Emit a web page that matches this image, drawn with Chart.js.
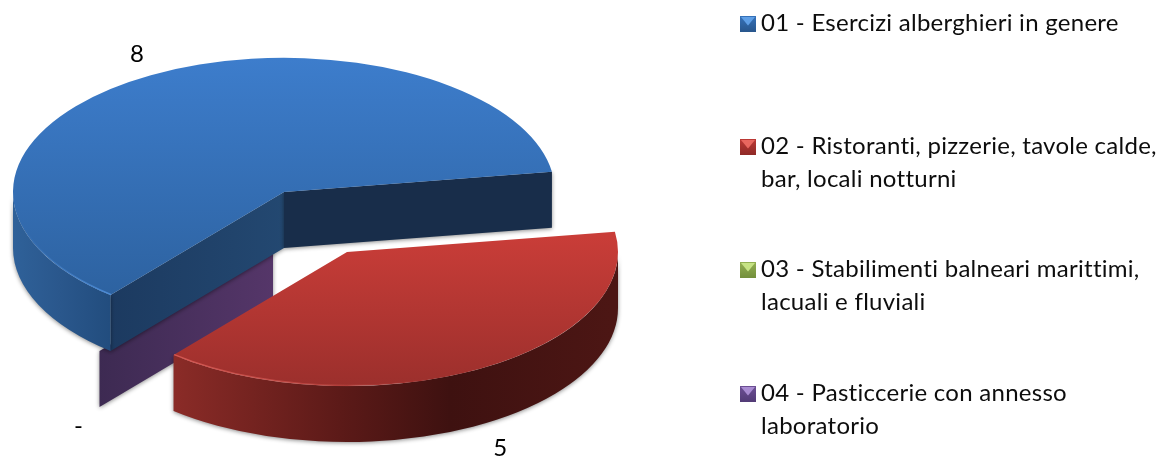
<!DOCTYPE html>
<html>
<head>
<meta charset="utf-8">
<title>Esercizi</title>
<script src="https://cdn.jsdelivr.net/npm/chart.js@4"></script>
<style>
  html, body { margin: 0; background: #fff; }
  canvas { display: block; }
</style>
</head>
<body>
<canvas id="pieChart" width="1173" height="463"></canvas>
<script>
const categories = [
  ["01 - Esercizi alberghieri in genere"],
  ["02 - Ristoranti, pizzerie, tavole calde,", "bar, locali notturni"],
  ["03 - Stabilimenti balneari marittimi,", "lacuali e fluviali"],
  ["04 - Pasticcerie con annesso", "laboratorio"]
];
const values = [8, 5, 0, 0];
const valueLabels = ["8", "5", "", "-"];

// look of the fake 3D pie
const squash = 0.495;
const depth = 56;
const radius = 271;
const fontName = "Lato";

// how far each slice is pulled out of the pie, before squashing
const explode = [[0, 0], [63, 121], [-11, 113], [-11, 113]];
const labelNudge = [[-14, -21], [20, 24], [0, 0], [-21, 19]];
const legendBaselines = [31, 154, 277, 401];

const topColors = [
  { y0: 58, y1: 297, c0: "#3d7dcc", c1: "#2d62a0" },
  { y0: 236, y1: 388, c0: "#c93d38", c1: "#9b2f2c" },
  { y0: 0, y1: 1, c0: "#9bbb59", c1: "#9bbb59" },
  { y0: 0, y1: 1, c0: "#7d5fa0", c1: "#7d5fa0" }
];
// light bevel on the front edge, fading out
const rimStops = [
  [[20, "rgba(79,143,220,0)"], [110, "rgba(79,143,220,0.9)"]],
  [[175, "rgba(218,92,86,0.9)"], [300, "rgba(218,92,86,0.5)"], [430, "rgba(218,92,86,0)"]],
  null,
  null
];
const sideStops = [
  [[13, "#2f6199"], [60, "#2a578c"], [110, "#224d7e"]],
  [[175, "#8a2b27"], [340, "#5c1a18"], [450, "#3e1110"], [610, "#4c1614"]],
  null,
  null
];
// start wall, end wall; zero slices only have the one
const wallStops = [
  [[[110, "#1c3a60"], [284, "#234871"]], [[284, "#182d4a"], [552, "#182d4a"]]],
  [null, null],
  [null, null],
  [[[98, "#3d2a52"], [273, "#553669"]], null]
];
const markerColors = [
  ["#3672ba", "#5f9fe6", "#28568c"],
  ["#bc3935", "#e8675f", "#8f2a27"],
  ["#93b052", "#c6e384", "#738f3c"],
  ["#6c4f94", "#a98cd2", "#523b76"]
];

const centerY = () => 192;
const unsquash = y => centerY() + (y - centerY()) / squash;
const screenY = y => centerY() + (y - centerY()) * squash;

function stopsGradient(ctx, stops) {
  const x0 = stops[0][0], x1 = stops[stops.length - 1][0];
  const g = ctx.createLinearGradient(x0, 0, x1, 0);
  stops.forEach(s => g.addColorStop((s[0] - x0) / (x1 - x0), s[1]));
  return g;
}

function wallShadow(ctx) {
  ctx.shadowColor = "rgba(0,0,0,0.45)";
  ctx.shadowBlur = 4;
  ctx.shadowOffsetY = 1;
}

function drawFlatWall(ctx, el, angle, stops) {
  if (!stops) return;
  const px = el.x, py = screenY(el.y);
  const qx = px + Math.cos(angle) * el.outerRadius;
  const qy = py + Math.sin(angle) * el.outerRadius * squash;
  ctx.beginPath();
  ctx.moveTo(px, py);
  ctx.lineTo(qx, qy);
  ctx.lineTo(qx, qy + depth);
  ctx.lineTo(px, py + depth);
  ctx.closePath();
  ctx.fillStyle = stopsGradient(ctx, stops);
  ctx.fill();
}

// the parts of the slice rim that face the viewer
function frontRanges(el) {
  const out = [];
  [0, 2 * Math.PI].forEach(turn => {
    const a0 = Math.max(el.startAngle, turn);
    const a1 = Math.min(el.endAngle, turn + Math.PI);
    if (a1 > a0) out.push([a0, a1]);
  });
  return out;
}

const pie3d = {
  id: "pie3d",
  afterDatasetsUpdate(chart) {
    chart.getDatasetMeta(0).data.forEach((el, i) => {
      el.x += explode[i][0];
      el.y += explode[i][1];
    });
  },
  beforeDatasetsDraw(chart) {
    const ctx = chart.ctx;
    const arcs = chart.getDatasetMeta(0).data;
    // back to front: zero slices, blue, red
    ctx.save();
    wallShadow(ctx);
    [3, 2, 0, 1].forEach(i => {
      const el = arcs[i];
      drawFlatWall(ctx, el, el.startAngle, wallStops[i][0]);
      drawFlatWall(ctx, el, el.endAngle, wallStops[i][1]);
      if (!sideStops[i]) return;
      frontRanges(el).forEach(r => {
        const py = screenY(el.y);
        ctx.beginPath();
        ctx.ellipse(el.x, py, el.outerRadius, el.outerRadius * squash, 0, r[0], r[1]);
        ctx.ellipse(el.x, py + depth, el.outerRadius, el.outerRadius * squash, 0, r[1], r[0], true);
        ctx.closePath();
        ctx.fillStyle = stopsGradient(ctx, sideStops[i]);
        ctx.fill();
      });
    });
    ctx.restore();
    // tops are drawn by chart.js inside this squashed space
    ctx.save();
    ctx.translate(0, centerY());
    ctx.scale(1, squash);
    ctx.translate(0, -centerY());
  },
  afterDatasetsDraw(chart) {
    const ctx = chart.ctx;
    ctx.restore();
    const arcs = chart.getDatasetMeta(0).data;
    arcs.forEach((el, i) => {
      if (!rimStops[i]) return;
      frontRanges(el).forEach(r => {
        ctx.beginPath();
        ctx.ellipse(el.x, screenY(el.y), el.outerRadius - 1, (el.outerRadius - 1) * squash, 0, r[0], r[1]);
        ctx.strokeStyle = stopsGradient(ctx, rimStops[i]);
        ctx.lineWidth = 1.5;
        ctx.stroke();
      });
    });
    // value labels
    ctx.fillStyle = "#000";
    ctx.font = "24px " + fontName;
    ctx.textAlign = "center";
    ctx.textBaseline = "middle";
    arcs.forEach((el, i) => {
      if (!valueLabels[i]) return;
      const mid = (el.startAngle + el.endAngle) / 2;
      const front = Math.sin(mid) > 0 ? depth : 0;
      const x = el.x + Math.cos(mid) * el.outerRadius + labelNudge[i][0];
      const y = screenY(el.y) + Math.sin(mid) * el.outerRadius * squash + front + labelNudge[i][1];
      ctx.fillText(valueLabels[i], x, y);
    });
  },
  afterDraw(chart) {
    const ctx = chart.ctx;
    ctx.save();
    ctx.font = "24px " + fontName;
    ctx.letterSpacing = "0.27px"; // also stops the tt/ti ligatures
    ctx.textAlign = "left";
    ctx.textBaseline = "alphabetic";
    chart.data.labels.forEach((lines, i) => {
      const base = legendBaselines[i];
      const x = 740, y = base - 15, s = 16;
      const cols = markerColors[i];
      const g = ctx.createLinearGradient(0, y, 0, y + s);
      g.addColorStop(0, cols[0]);
      g.addColorStop(1, cols[2]);
      ctx.fillStyle = g;
      ctx.fillRect(x, y, s, s);
      ctx.beginPath();
      ctx.moveTo(x + 1, y + 1);
      ctx.lineTo(x + s - 1, y + 1);
      ctx.lineTo(x + s / 2, y + s * 0.6);
      ctx.closePath();
      ctx.fillStyle = cols[1];
      ctx.fill();
      ctx.fillStyle = "#0d0d0d";
      lines.forEach((line, n) => ctx.fillText(line, 761, base + n * 33));
    });
    ctx.restore();
  }
};

new Chart(document.getElementById("pieChart"), {
  type: "pie",
  plugins: [pie3d],
  data: {
    labels: categories,
    datasets: [{
      data: values,
      clip: false,
      radius: radius,
      borderWidth: 0,
      backgroundColor: c => {
        const t = topColors[c.dataIndex];
        const g = c.chart.ctx.createLinearGradient(0, unsquash(t.y0), 0, unsquash(t.y1));
        g.addColorStop(0, t.c0);
        g.addColorStop(1, t.c1);
        return g;
      }
    }]
  },
  options: {
    responsive: false,
    animation: false,
    rotation: 219.8,
    layout: { padding: { left: 0, top: 0, right: 605, bottom: 79 } },
    plugins: { legend: { display: false }, tooltip: { enabled: false } }
  }
});
</script>
</body>
</html>
